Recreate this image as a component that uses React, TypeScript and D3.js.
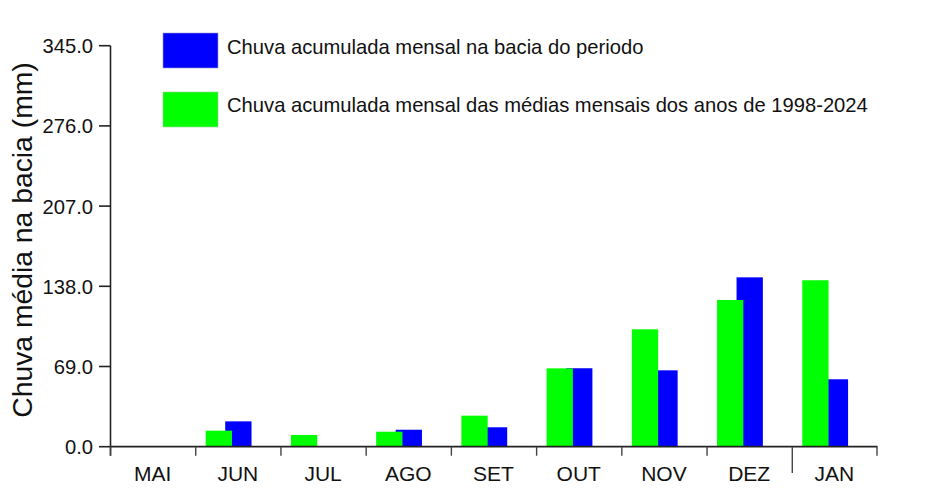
import React from "react";
import * as d3 from "d3";

const months = ["MAI", "JUN", "JUL", "AGO", "SET", "OUT", "NOV", "DEZ", "JAN"];
const observed = [0, 21.8, 0, 14.6, 16.7, 67.5, 65.7, 145.7, 58.0];
const climatology = [0, 13.8, 10.1, 12.9, 26.7, 67.4, 101.0, 126.2, 143.2];
const yTicks = [0, 69, 138, 207, 276, 345];
const legendLabels = [
  "Chuva acumulada mensal na bacia do periodo",
  "Chuva acumulada mensal das médias mensais dos anos de 1998-2024",
];
const yTitle = "Chuva média na bacia (mm)";

const W = 933;
const H = 493;
const FONT = "'Liberation Sans', Arial, Helvetica, sans-serif";
const BLUE = "#0000ff";
const GREEN = "#00ff00";

export default function App() {
  const x = d3.scaleBand<string>().domain(months).range([110, 877]).padding(0);
  const y = d3.scaleLinear().domain([0, 345]).range([446.7, 45.7]);
  const bw = x.bandwidth();
  const fmt = d3.format(".1f");
  const gOff = bw * 0.123;
  const bOff = bw * 0.352;
  const barW = 26.3;

  return (
    <svg
      width={W}
      height={H}
      style={{ position: "absolute", left: 0, top: 0, background: "#fff" }}
      fontFamily={FONT}
    >
      <rect x={0} y={0} width={W} height={H} fill="#fff" />
      {/* bars: blue under green */}
      {months.map((m, i) =>
        observed[i] > 0 ? (
          <rect
            key={"b" + m}
            x={(x(m) as number) + bOff}
            y={y(observed[i])}
            width={barW}
            height={y(0) - y(observed[i])}
            fill={BLUE}
          />
        ) : null
      )}
      {months.map((m, i) =>
        climatology[i] > 0 ? (
          <rect
            key={"g" + m}
            x={(x(m) as number) + gOff}
            y={y(climatology[i])}
            width={barW}
            height={y(0) - y(climatology[i])}
            fill={GREEN}
          />
        ) : null
      )}
      {/* y axis */}
      <line x1={110.5} x2={110.5} y1={y(345)} y2={y(0) + 9} stroke="#222" strokeWidth={1.6} />
      {yTicks.map((t) => (
        <g key={"yt" + t}>
          <line x1={99} x2={110.5} y1={y(t)} y2={y(t)} stroke="#222" strokeWidth={1.6} />
          <text x={93} y={y(t) + 7.5} textAnchor="end" fontSize={20.2} fill="#111">
            {fmt(t)}
          </text>
        </g>
      ))}
      {/* x axis */}
      <line x1={110} x2={877.5} y1={y(0)} y2={y(0)} stroke="#222" strokeWidth={1.8} />
      {months.map((m) => (
        <line
          key={"xt" + m}
          x1={(x(m) as number) + 0.5}
          x2={(x(m) as number) + 0.5}
          y1={y(0)}
          y2={m === "JAN" ? 473 : y(0) + 9}
          stroke="#444"
          strokeWidth={1.4}
        />
      ))}
      <line x1={877} x2={877} y1={y(0)} y2={y(0) + 9} stroke="#444" strokeWidth={1.4} />
      {months.map((m) => (
        <text
          key={"xl" + m}
          x={(x(m) as number) + bw / 2}
          y={480.5}
          textAnchor="middle"
          fontSize={21}
          fill="#111"
        >
          {m}
        </text>
      ))}
      {/* y title */}
      <text
        transform={`translate(32,240) rotate(-90)`}
        textAnchor="middle"
        fontSize={28.3}
        fill="#111"
      >
        {yTitle}
      </text>
      {/* legend */}
      <rect x={163} y={33} width={55} height={35} fill={BLUE} stroke="#9999cc" strokeWidth={0.6} />
      <rect x={163} y={92} width={55} height={35} fill={GREEN} stroke="#99cc99" strokeWidth={0.6} />
      <text x={227} y={54} fontSize={20.2} fill="#111">
        {legendLabels[0]}
      </text>
      <text x={227} y={112} fontSize={20.2} fill="#111">
        {legendLabels[1]}
      </text>
    </svg>
  );
}
